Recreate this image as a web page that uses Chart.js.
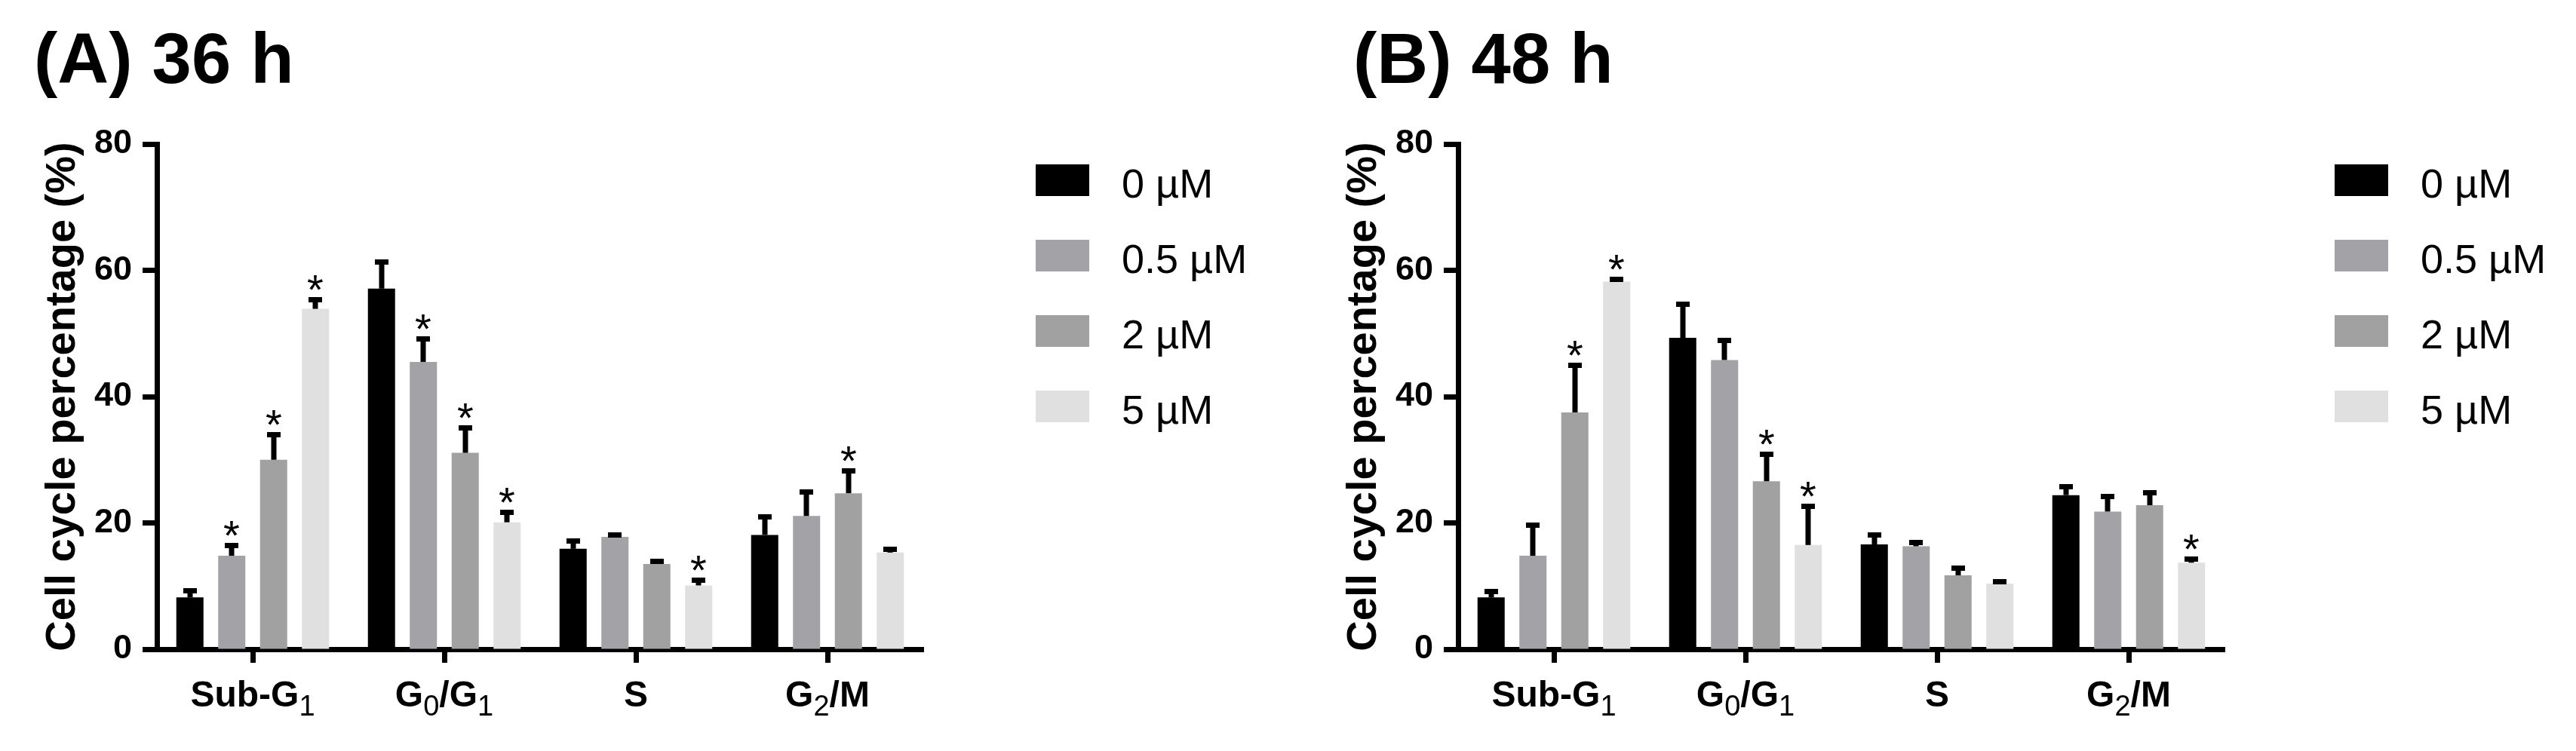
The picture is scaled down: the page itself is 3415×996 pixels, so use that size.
<!DOCTYPE html>
<html>
<head>
<meta charset="utf-8">
<script src="https://cdn.jsdelivr.net/npm/chart.js@4"></script>
<style>
  html, body { margin: 0; padding: 0; background: #fff; }
  #wrap { position: relative; width: 3415px; height: 996px; overflow: hidden; }
  #panelA { position: absolute; left: 0; top: 0; }
  #panelB { position: absolute; left: 1725px; top: 0; }
</style>
</head>
<body>
<div id="wrap">
  <canvas id="panelA" width="1725" height="996"></canvas>
  <canvas id="panelB" width="1690" height="996"></canvas>
</div>
<script>
// categories ("_x" marks a subscript character)
const phases = ['Sub-G_1', 'G_0/G_1', 'S', 'G_2/M'];
const doses = ['0 µM', '0.5 µM', '2 µM', '5 µM'];
const yTickValues = [0, 20, 40, 60, 80];

// 36 h: mean cell cycle percentage per dose
const h36_dose0 = [8.2, 57.1, 15.9, 18.1];
const h36_dose05 = [14.8, 45.5, 17.8, 21.1];
const h36_dose2 = [30.0, 31.1, 13.5, 24.7];
const h36_dose5 = [53.9, 20.1, 10.1, 15.3];
// 36 h: error (upper bar)
const h36_err0 = [1.5, 4.6, 1.6, 3.3];
const h36_err05 = [2.0, 4.0, 0.7, 4.2];
const h36_err2 = [4.4, 4.4, 0.8, 4.0];
const h36_err5 = [1.9, 2.0, 1.2, 0.9];
// 36 h: significance (*)
const h36_sig0 = [0, 0, 0, 0];
const h36_sig05 = [1, 1, 0, 0];
const h36_sig2 = [1, 1, 0, 1];
const h36_sig5 = [1, 1, 1, 0];

// 48 h
const h48_dose0 = [8.2, 49.3, 16.6, 24.4];
const h48_dose05 = [14.8, 45.8, 16.3, 21.8];
const h48_dose2 = [37.5, 26.6, 11.7, 22.8];
const h48_dose5 = [58.2, 16.5, 10.4, 13.7];
const h48_err0 = [1.3, 5.7, 1.9, 1.8];
const h48_err05 = [5.3, 3.5, 1.0, 2.8];
const h48_err2 = [7.9, 4.7, 1.5, 2.4];
const h48_err5 = [0.8, 6.5, 0.7, 1.0];
const h48_sig0 = [0, 0, 0, 0];
const h48_sig05 = [0, 0, 0, 0];
const h48_sig2 = [1, 1, 0, 0];
const h48_sig5 = [1, 1, 0, 1];

const doseColors = ['#000000', '#a3a3a7', '#a1a1a1', '#e0e0e0'];
const FONT = '"Liberation Sans", Arial, sans-serif';

// error bars, asterisks, panel title, legend and subscripted x labels
const panelDeco = {
    id: 'panelDeco',
    afterDatasetsDraw(chart, args, opts) {
        const ctx = chart.ctx;
        const yScale = chart.scales.y;
        ctx.save();
        ctx.fillStyle = '#000';
        chart.data.datasets.forEach((ds, i) => {
            const meta = chart.getDatasetMeta(i);
            meta.data.forEach((bar, j) => {
                const yTop = Math.round(yScale.getPixelForValue(ds.data[j] + opts.errors[i][j]));
                const x = Math.round(bar.x);
                ctx.fillRect(x - 3.5, yTop, 7, bar.y - yTop);
                ctx.fillRect(x - 9, yTop, 18, 7);
                if (opts.stars[i][j]) {
                    ctx.font = '56px ' + FONT;
                    ctx.textAlign = 'center';
                    ctx.textBaseline = 'alphabetic';
                    const m = ctx.measureText('*');
                    ctx.fillText('*', x, yTop - 9 - m.actualBoundingBoxDescent);
                }
            });
        });
        ctx.restore();
    },
    afterDraw(chart, args, opts) {
        const ctx = chart.ctx;
        ctx.save();
        ctx.fillStyle = '#000';

        // panel title
        ctx.font = 'bold 94px ' + FONT;
        ctx.textAlign = 'left';
        ctx.textBaseline = 'alphabetic';
        ctx.fillText(opts.title, opts.titleX, 110);

        // legend
        chart.data.datasets.forEach((ds, i) => {
            const top = 218 + i * 100;
            ctx.fillStyle = ds.backgroundColor;
            ctx.fillRect(opts.legendX, top, 71, 42);
            ctx.fillStyle = '#000';
            ctx.font = '54px ' + FONT;
            ctx.fillText(ds.label, opts.legendX + 114, top + 44);
        });

        // x labels with subscripts
        const xScale = chart.scales.x;
        const mainFont = 'bold 48px ' + FONT;
        const subFont = '38px ' + FONT;
        chart.data.labels.forEach((lab, i) => {
            const parts = [];
            lab.split(/(_.)/).forEach(p => {
                if (!p) return;
                if (p[0] === '_') parts.push({ t: p[1], sub: true });
                else parts.push({ t: p, sub: false });
            });
            let total = 0;
            parts.forEach(p => {
                ctx.font = p.sub ? subFont : mainFont;
                p.w = ctx.measureText(p.t).width;
                total += p.w;
            });
            let x = xScale.getPixelForTick(i) - total / 2;
            parts.forEach(p => {
                ctx.font = p.sub ? subFont : mainFont;
                ctx.fillText(p.t, x, p.sub ? 949 : 937);
                x += p.w;
            });
        });
        ctx.restore();
    }
};

function makePanel(canvasId, title, titleX, legendX, padRight, means, errors, stars) {
    const ctx = document.getElementById(canvasId).getContext('2d');
    return new Chart(ctx, {
        type: 'bar',
        data: {
            labels: phases,
            datasets: doses.map((d, i) => ({
                label: d,
                data: means[i],
                backgroundColor: doseColors[i],
                borderWidth: 0,
                categoryPercentage: 0.874,
                barPercentage: 0.649
            }))
        },
        options: {
            responsive: false,
            animation: false,
            devicePixelRatio: 1,
            layout: {
                padding: { top: 191, left: 40, right: padRight, bottom: 0 }
            },
            plugins: {
                legend: { display: false },
                tooltip: { enabled: false },
                panelDeco: { title, titleX, legendX, errors, stars }
            },
            scales: {
                x: {
                    offset: true,
                    grid: {
                        display: true,
                        offset: false,
                        drawOnChartArea: false,
                        drawTicks: true,
                        tickLength: 18,
                        tickWidth: 7,
                        tickColor: '#000'
                    },
                    border: { display: true, color: '#000', width: 7 },
                    ticks: { display: false },
                    afterFit: s => { s.height = 135; }
                },
                y: {
                    min: 0,
                    max: 80,
                    afterBuildTicks: s => { s.ticks = yTickValues.map(v => ({ value: v })); },
                    grid: {
                        drawOnChartArea: false,
                        tickLength: 19,
                        tickWidth: 7,
                        tickColor: '#000'
                    },
                    border: { color: '#000', width: 7 },
                    ticks: {
                        color: '#000',
                        padding: 14,
                        font: { family: FONT, size: 45, weight: 'bold' }
                    },
                    title: {
                        display: true,
                        text: 'Cell cycle percentage (%)',
                        color: '#000',
                        font: { family: FONT, size: 56, weight: 'bold' },
                        padding: { top: 10, bottom: 0 }
                    },
                    afterFit: s => { s.width = 168; }
                }
            }
        },
        plugins: [panelDeco]
    });
}

makePanel('panelA', '(A) 36 h', 45, 1373, 501,
    [h36_dose0, h36_dose05, h36_dose2, h36_dose5],
    [h36_err0, h36_err05, h36_err2, h36_err5],
    [h36_sig0, h36_sig05, h36_sig2, h36_sig5]);

makePanel('panelB', '(B) 48 h', 69, 1370, 466,
    [h48_dose0, h48_dose05, h48_dose2, h48_dose5],
    [h48_err0, h48_err05, h48_err2, h48_err5],
    [h48_sig0, h48_sig05, h48_sig2, h48_sig5]);
</script>
</body>
</html>
